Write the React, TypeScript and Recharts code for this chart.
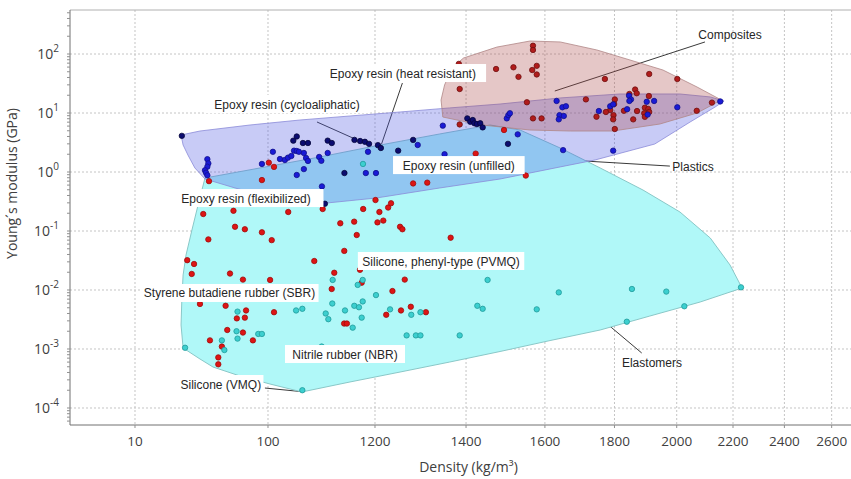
import React from "react";
import {
  ReferenceLine,
  Scatter,
  ScatterChart,
  CartesianGrid,
  XAxis,
  YAxis,
} from "recharts";

// density (kg/m³), Young's modulus (GPa)
type Pt = [number, number];

const X_TICK_LABELS = [10, 100, 1200, 1400, 1600, 1800, 2000, 2200, 2400, 2600];
const Y_DECADES = [1e-4, 1e-3, 1e-2, 1e-1, 1, 10, 100];
const Y_EXPONENTS = ["-4", "-3", "-2", "-1", "0", "1", "2"];

const ELASTOMER_REGION: Pt[] = [
  [33.6, 0.791], [87, 1.17], [335, 1.8], [1200, 2.76], [1339, 4.41], [1458, 6.26],
  [1534, 5.15], [1642, 2.55], [1757, 1.17], [1889, 0.495], [2011, 0.21], [2117, 0.076],
  [2189, 0.0265], [2234, 0.0108], [2081, 0.00626], [1911, 0.00362], [1757, 0.0021],
  [1614, 0.00139], [1483, 0.000907], [1362, 0.000602], [1252, 0.000407], [671, 0.000276],
  [220, 0.000187], [104.8, 0.000255], [61.5, 0.000349], [38.6, 0.000495], [30.8, 0.000677],
  [23, 0.00104], [22.2, 0.00255], [22.5, 0.00677], [23, 0.018], [24.2, 0.0392],
  [26.8, 0.104], [29.8, 0.276],
];

const PLASTIC_REGION: Pt[] = [
  [22.2, 4.24], [30.8, 4.95], [73.2, 6.26], [210, 7.61], [671, 8.9], [1252, 10.4],
  [1362, 12.2], [1483, 14.2], [1642, 18], [1817, 21], [2011, 21], [2117, 18.7],
  [2167, 16], [2134, 12.6], [2046, 7.04], [1927, 2.98], [1742, 1.6], [1642, 1.22],
  [1483, 0.761], [1339, 0.536], [1202, 0.362], [312, 0.287], [104.8, 0.377], [56.5, 0.536],
  [33.6, 0.761], [28.2, 1.17], [25, 1.94], [23, 2.87],
];

const COMPOSITE_REGION: Pt[] = [
  [1346, 8.55], [1342, 16.6], [1350, 29.8], [1367, 57.9], [1394, 85.5], [1475, 131],
  [1560, 166], [1642, 160], [1747, 117], [1848, 79.1], [1954, 53.5], [2070, 27.6],
  [2157, 16.6], [2070, 10], [1944, 6.51], [1795, 4.95], [1670, 4.95], [1560, 5.15],
  [1434, 6.3],
];

const EPOXY: Pt[] = [
  [22.5, 4.1], [180, 3.4], [195, 4.0], [225, 3.1], [253, 3.1], [400, 3.4], [440, 3.1],
  [375, 0.29], [590, 0.96], [745, 3.5], [850, 3.35], [950, 3.25], [1045, 3.0],
  [1206, 2.85], [1212, 2.55], [1248, 2.3], [1280, 3.5], [1503, 3.0], [1403, 8.1],
  [1410, 7.1], [1416, 7.6], [1420, 6.7], [1426, 6.5], [1434, 6.7], [1440, 5.7],
];

const PLASTICS: Pt[] = [
  [35, 1.65], [35.6, 1.4], [35, 1.23], [33.6, 1.07], [34.2, 0.97], [35, 0.88],
  [90, 1.37], [112, 2.2], [132, 1.66], [148, 1.6], [159, 1.75], [172, 1.87], [183, 2.3],
  [195, 2.27], [205, 2.2], [230, 2.1], [242, 1.73], [253, 1.54], [230, 1.12], [195, 0.89],
  [328, 1.8], [345, 1.55], [400, 2.1], [350, 0.57], [1020, 2.2], [970, 0.96], [1202, 0.96],
  [1290, 2.87], [1346, 6.1], [1350, 2.0], [1528, 4.35], [1500, 8.1], [1504, 9.2],
  [1508, 9.9], [1632, 16], [1648, 12.5], [1658, 13], [1640, 9.2], [1652, 8.9], [1638, 7.8],
  [1650, 2.35], [1753, 10.8], [1787, 13], [1796, 14], [1845, 19.6], [1851, 17], [1846, 16],
  [1839, 11.6], [1901, 15.5], [1925, 16], [1904, 9.4], [2002, 12.5], [2153, 15.7], [1796, 2.3],
];

const COMPOSITES: Pt[] = [
  [1568, 138], [1568, 117], [1578, 63], [1566, 53.5], [1578, 45], [1517, 59.5], [1530, 41],
  [1473, 55.7], [1383, 68], [1385, 25.5], [1552, 15.2], [1568, 8.1], [1591, 8.1],
  [1385, 6.4], [1771, 37.7], [1909, 45.8], [2002, 37.7], [1715, 17], [1746, 8.65],
  [1801, 17], [1799, 14.2], [1787, 11.2], [1774, 10.4], [1797, 9.2], [1796, 7.8],
  [1801, 5.35], [1829, 10.9], [1858, 7.8], [1846, 21], [1864, 25], [1869, 21.6],
  [1870, 10.8], [1895, 12.3], [1906, 11.7], [1893, 9.9], [1909, 10.4], [1908, 19.4],
  [2069, 10.9], [2123, 15], [1895, 8.6],
];

const RUBBERS: Pt[] = [
  [102, 1.44], [115, 1.22], [90, 0.73], [36, 0.7], [1423, 2.05], [1493, 5.15], [1549, 0.87],
  [1280, 0.64], [1311, 0.66], [1201, 0.335], [912, 0.236], [1209, 0.21], [1227, 0.25],
  [1233, 0.295], [356, 0.236], [160, 0.21], [55, 0.22], [32.6, 0.194], [1217, 0.15],
  [1205, 0.14], [740, 0.144], [536, 0.135], [1252, 0.118], [1257, 0.107], [785, 0.0855],
  [1364, 0.077], [588, 0.046], [56.5, 0.118], [67, 0.107], [90, 0.095], [109, 0.07],
  [35.6, 0.072], [24.7, 0.032], [27.8, 0.0276], [293, 0.031], [26.7, 0.0187], [51.8, 0.019],
  [64.8, 0.015], [105, 0.0148], [466, 0.0196], [847, 0.022], [1262, 0.015], [439, 0.0104],
  [881, 0.0133], [1236, 0.0096], [30.8, 0.0058], [48, 0.0054], [68.4, 0.0045], [115, 0.0042],
  [58.3, 0.0033], [67, 0.0034], [1223, 0.0038], [1254, 0.0045], [1275, 0.0052],
  [1308, 0.0042], [586, 0.0027], [625, 0.0027], [49.4, 0.0021], [64.8, 0.0019],
  [36.6, 0.0014], [45, 0.0011], [77, 0.0014], [42.3, 0.00072], [42.3, 0.00055],
];

const SILICONES: Pt[] = [
  [908, 1.37], [449, 0.0148], [803, 0.0122], [902, 0.0148], [1202, 0.0082], [902, 0.0064],
  [742, 0.0054], [827, 0.0051], [598, 0.0045], [445, 0.0059], [382, 0.004], [406, 0.0032],
  [192, 0.0045], [222, 0.0048], [881, 0.0034], [715, 0.0023], [1231, 0.0047], [1276, 0.0038],
  [1296, 0.0042], [1266, 0.0017], [1286, 0.0017], [1296, 0.0017], [59, 0.0043], [58, 0.002],
  [59, 0.0015], [84.5, 0.0018], [90, 0.0018], [45, 0.0014], [47, 0.00096], [23.8, 0.00105],
  [348, 0.0011], [222, 0.0002], [1452, 0.0148], [1638, 0.0091], [1427, 0.0054],
  [1440, 0.0048], [1578, 0.0047], [1385, 0.0017], [1854, 0.0104], [1965, 0.0094],
  [2026, 0.0053], [1838, 0.0029], [2230, 0.0111],
];

type Note = { text: string; at: Pt; box: boolean; from: Pt; to: Pt };
const NOTES: Note[] = [
  { text: "Composites", at: [2189, 218], box: false, from: [1627, 23.6], to: [2098, 160] },
  { text: "Epoxy resin (heat resistant)", at: [1258, 47.6], box: true, from: [1212, 2.76], to: [1257, 32.2] },
  { text: "Epoxy resin (cycloaliphatic)", at: [155.5, 14.2], box: true, from: [312, 7.04], to: [754, 3.63] },
  { text: "Epoxy resin (unfilled)", at: [1383, 1.31], box: true, from: [1248, 2.36], to: [1310, 1.83] },
  { text: "Epoxy resin (flexibilized)", at: [68.4, 0.362], box: true, from: [587, 0.96], to: [123, 0.536] },
  { text: "Plastics", at: [2056, 1.22], box: false, from: [1617, 1.66], to: [1977, 1.26] },
  { text: "Silicone, phenyl-type (PVMQ)", at: [1342, 0.031], box: true, from: [887, 0.0142], to: [1273, 0.0236] },
  { text: "Elastomers", at: [1918, 0.00058], box: false, from: [1592, 0.0227], to: [1885, 0.000855] },
  { text: "Styrene butadiene rubber (SBR)", at: [51.4, 0.0089], box: true, from: [58.4, 0.0044], to: [53.6, 0.00652] },
  { text: "Nitrile rubber (NBR)", at: [598, 0.000822], box: true, from: [87, 0.00187], to: [319, 0.00108] },
  { text: "Silicone (VMQ)", at: [44.2, 0.000255], box: true, from: [94.8, 0.000218], to: [215, 0.00019] },
];

// the density axis is log below 100, squeezed between 100 and 1200,
// and stretched above 1200 (as in the source figure)
const MID_SPAN = 107 / 133;
const UPPER_STRETCH = 1360 / 133;
function toU(d: number): number {
  if (d <= 100) return Math.log10(d);
  if (d <= 1200) return 2 + (MID_SPAN * Math.log10(d / 100)) / Math.log10(12);
  return 2 + MID_SPAN + UPPER_STRETCH * Math.log10(d / 1200);
}

const X_DOMAIN = [0.5113, 6.3835];
const Y_DOMAIN = [5.15e-5, 557];
const X_TICKS = X_TICK_LABELS.map(toU);
const Y_TICKS: number[] = [];
for (const dec of [1e-5, 1e-4, 1e-3, 1e-2, 1e-1, 1, 10, 100]) {
  for (let m = 1; m <= 9; m++) {
    const v = m * dec;
    if (v >= Y_DOMAIN[0] && v <= Y_DOMAIN[1]) Y_TICKS.push(m === 1 ? dec : v);
  }
}

const pts = (rows: Pt[]) => rows.map(([d, e]) => ({ x: toU(d), y: e }));

const AXIS_FONT = "'Open Sans', sans-serif";
const NOTE_FONT = "'Liberation Sans', Arial, sans-serif";

const dot = (fill: string, stroke: string) => (p: any) => (
  <circle cx={p.cx} cy={p.cy} r={2.7} fill={fill} stroke={stroke} strokeWidth={0.8} />
);
const noDot = () => <g />;

function XTick({ x, y, index }: any) {
  return (
    <text x={x} y={y} dy={16} textAnchor="middle" fill="#404040" fontSize={13.5} fontFamily={AXIS_FONT}>
      {X_TICK_LABELS[index]}
    </text>
  );
}

function YTick({ x, y, payload }: any) {
  const i = Y_DECADES.indexOf(payload.value);
  if (i < 0) return <g />;
  return (
    <text x={x - 6} y={y} dy={5} textAnchor="end" fill="#404040" fontSize={14} fontFamily={AXIS_FONT}>
      10
      <tspan dy={-7} fontSize={10}>
        {Y_EXPONENTS[i]}
      </tspan>
    </text>
  );
}

function NoteLabel(p: any) {
  const { cx, cy, payload } = p;
  const w = payload.text.length * 5.8 + 4;
  return (
    <g>
      {payload.box && <rect x={cx - w / 2} y={cy - 9} width={w} height={18} fill="#fff" />}
      <text
        x={cx}
        y={cy}
        dy={4.5}
        textAnchor="middle"
        fill="#262626"
        fontSize={12}
        fontFamily={NOTE_FONT}
      >
        {payload.text}
      </text>
    </g>
  );
}

export default function App() {
  const noteData = NOTES.map((n) => ({ x: toU(n.at[0]), y: n.at[1], text: n.text, box: n.box }));
  return (
    <div style={{ width: 851, height: 479, background: "#fff" }}>
      <style>{"body{margin:0}"}</style>
      <ScatterChart width={851} height={479} margin={{ top: 10, right: 0, left: 0, bottom: 0 }}>
        <CartesianGrid
          stroke="#c4c4c4"
          strokeDasharray="2 2"
          horizontalValues={Y_DECADES}
          verticalValues={X_TICKS}
        />
        <XAxis
          type="number"
          dataKey="x"
          domain={X_DOMAIN}
          allowDataOverflow
          ticks={X_TICKS}
          interval={0}
          tick={<XTick />}
          tickSize={3}
          tickMargin={2}
          height={54}
          axisLine={{ stroke: "#707070" }}
          tickLine={{ stroke: "#909090" }}
          label={{
            value: "Density (kg/m³)",
            position: "insideBottom",
            offset: 7,
            dx: 8,
            fill: "#404040",
            fontSize: 14,
            fontFamily: AXIS_FONT,
          }}
        />
        <YAxis
          type="number"
          dataKey="y"
          scale="log"
          domain={Y_DOMAIN}
          allowDataOverflow
          ticks={Y_TICKS}
          interval={0}
          tick={<YTick />}
          tickSize={3}
          tickMargin={2}
          width={70}
          axisLine={{ stroke: "#707070" }}
          tickLine={{ stroke: "#909090" }}
          label={{
            value: "Young´s modulus (GPa)",
            angle: -90,
            position: "insideLeft",
            offset: 12,
            dy: -34,
            style: { textAnchor: "middle" },
            fill: "#404040",
            fontSize: 14,
            fontFamily: AXIS_FONT,
          }}
        />
        <ReferenceLine y={Y_DOMAIN[1]} stroke="#b0b0b0" />

        <Scatter
          data={pts(ELASTOMER_REGION)}
          shape={noDot}
          line={{ fill: "#b0f8f8", stroke: "#8ac8c8", strokeWidth: 1 }}
          lineJointType="linearClosed"
          isAnimationActive={false}
        />
        <Scatter
          data={pts(PLASTIC_REGION)}
          shape={noDot}
          line={{ fill: "#4a54e0", fillOpacity: 0.3, stroke: "#8a8ad8", strokeWidth: 0.8 }}
          lineJointType="linearClosed"
          isAnimationActive={false}
        />
        <Scatter
          data={pts(COMPOSITE_REGION)}
          shape={noDot}
          line={{ fill: "#a84646", fillOpacity: 0.3, stroke: "#b08686", strokeWidth: 0.8 }}
          lineJointType="linearClosed"
          isAnimationActive={false}
        />

        <Scatter data={pts(RUBBERS)} shape={dot("#dd1414", "#a00c0c")} isAnimationActive={false} />
        <Scatter data={pts(SILICONES)} shape={dot("#3ccfcf", "#1f9a9a")} isAnimationActive={false} />
        <Scatter data={pts(COMPOSITES)} shape={dot("#b01c1c", "#701010")} isAnimationActive={false} />
        <Scatter data={pts(PLASTICS)} shape={dot("#1a1ad6", "#10108a")} isAnimationActive={false} />
        <Scatter data={pts(EPOXY)} shape={dot("#0c0c70", "#05053a")} isAnimationActive={false} />

        {NOTES.map((n) => (
          <ReferenceLine
            key={n.text}
            segment={[
              { x: toU(n.from[0]), y: n.from[1] },
              { x: toU(n.to[0]), y: n.to[1] },
            ]}
            stroke="#3a3a3a"
            strokeWidth={1}
          />
        ))}
        <Scatter data={noteData} shape={NoteLabel} isAnimationActive={false} />
      </ScatterChart>
    </div>
  );
}
